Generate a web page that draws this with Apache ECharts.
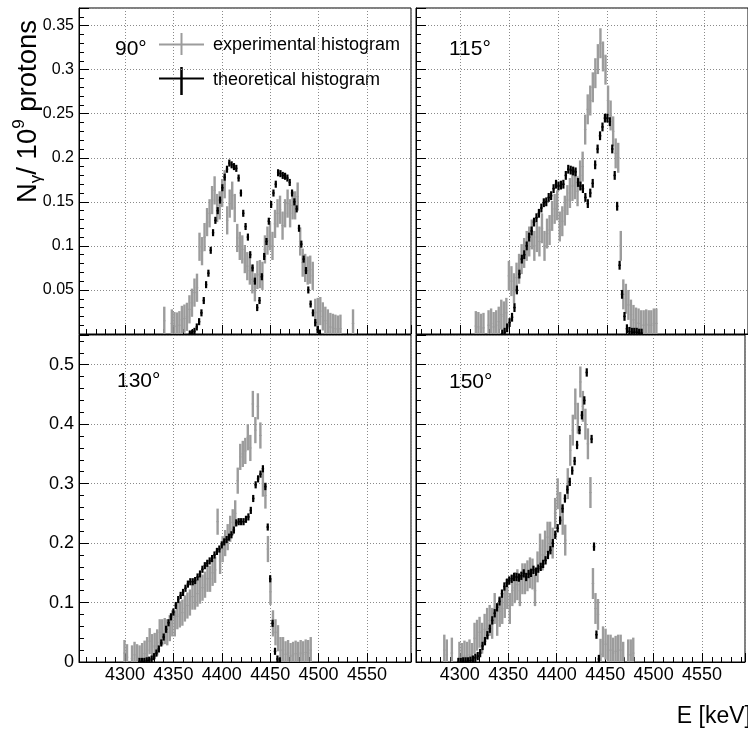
<!DOCTYPE html>
<html>
<head>
<meta charset="utf-8">
<script src="https://cdn.jsdelivr.net/npm/echarts@6.0.0/dist/echarts.min.js"></script>
<style>
html, body { margin: 0; padding: 0; background: #fff; }
#graph { width: 748px; height: 734px; }
</style>
</head>
<body>
<div id="graph"></div>
<script>
"use strict"

const FONT = "'Liberation Sans', Arial, Helvetica, sans-serif";

// histogram bins: [centre of first bin (keV), bin width (keV)]
const exp90Bins = [4340.6, 2.6];
const exp90 = [0.015, null, null, 0.012, 0.009, 0.0085, 0.01, 0.016, 0.0175, 0.0195,
    0.028, 0.0355, 0.047, 0.0525, 0.099, 0.094, 0.11, 0.127, 0.137, 0.152,
    0.163, 0.143, 0.146, 0.16, 0.17, 0.129, 0.148, 0.157, 0.143, 0.109,
    0.1, 0.096, 0.085, 0.077, 0.072, 0.062, 0.053, 0.067, 0.068, 0.066,
    0.096, 0.106, 0.111, 0.1, 0.125, 0.137, 0.141, 0.123, 0.137, 0.148,
    0.137, 0.146, 0.146, 0.156, 0.105, 0.081, 0.075, 0.072, 0.073, 0.066,
    0.024, 0.025, 0.026, 0.02, 0.015, 0.012, 0.008, 0.007, 0.006, 0.005,
    0.006, null, null, null, null, 0.012];
const theo90Bins = [4367, 2.4];
const theo90 = [0, 0.001, 0.003, 0.008, 0.014, 0.024, 0.038, 0.056, 0.069, 0.095,
    0.115, 0.129, 0.14, 0.152, 0.166, 0.178, 0.187, 0.194, 0.192, 0.19,
    0.188, 0.177, 0.16, 0.137, 0.122, 0.11, 0.09, 0.075, 0.06, 0.03,
    0.038, 0.065, 0.088, 0.105, 0.128, 0.147, 0.16, 0.17, 0.183, 0.182,
    0.18, 0.179, 0.177, 0.172, 0.16, 0.15, 0.142, 0.12, 0.102, 0.085,
    0.072, 0.05, 0.034, 0.024, 0.013, 0.005, 0.001];

const exp115Bins = [4316, 2.6];
const exp115 = [0.009, 0.008, 0.006, 0.007, null, 0.01, 0.012, 0.008, 0.01, 0.014,
    0.022, 0.02, 0.024, 0.066, 0.06, 0.052, 0.064, 0.074, 0.085, 0.092,
    0.1, 0.105, 0.113, 0.1, 0.11, 0.105, 0.12, 0.1, 0.114, 0.118,
    0.134, 0.142, 0.146, 0.122, 0.128, 0.14, 0.152, 0.16, 0.168, 0.17,
    0.162, 0.18, 0.19, 0.232, 0.255, 0.265, 0.28, 0.296, 0.312, 0.33,
    0.315, 0.3, 0.265, 0.248, 0.23, 0.205, 0.2, 0.1, 0.045, 0.04,
    0.033, 0.022, 0.016, 0.013, 0.012, 0.01, 0.01, 0.011, 0.01, 0.01,
    0.012, 0.012];
const theo115Bins = [4343, 2.5];
const theo115 = [0, 0.002, 0.007, 0.013, 0.019, 0.03, 0.05, 0.068, 0.085, 0.09,
    0.1, 0.11, 0.117, 0.127, 0.132, 0.137, 0.143, 0.149, 0.15, 0.155,
    0.157, 0.165, 0.17, 0.168, 0.169, 0.17, 0.18, 0.187, 0.186, 0.185,
    0.184, 0.172, 0.168, 0.165, 0.155, 0.148, 0.16, 0.171, 0.192, 0.21,
    0.225, 0.235, 0.245, 0.245, 0.241, 0.21, 0.18, 0.145, 0.078, 0.045,
    0.02, 0.006, 0.003, 0.002, 0.002, 0.002, 0.001, 0.001];

const exp130Bins = [4299.5, 2.6];
const exp130 = [0.015, 0.008, null, 0.006, 0.012, 0.008, 0.006, 0.01, 0.014, 0.02,
    0.035, 0.025, 0.027, 0.033, 0.05, 0.05, 0.052, 0.05, 0.057, 0.065,
    0.065, 0.077, 0.08, 0.083, 0.09, 0.095, 0.1, 0.11, 0.11, 0.115,
    0.12, 0.125, 0.13, 0.14, 0.14, 0.15, 0.155, 0.236, 0.17, 0.19,
    0.2, 0.21, 0.224, 0.235, 0.25, 0.305, 0.345, 0.35, 0.355, 0.378,
    0.36, 0.434, 0.39, 0.43, 0.381, 0.3, 0.28, 0.19, 0.118, 0.065,
    0.05, 0.04, 0.02, 0.02, 0.013, 0.015, 0.01, 0.012, 0.014, 0.012,
    0.015, 0.013, 0.016, 0.015, 0.02];
const theo130Bins = [4315, 2.5];
const theo130 = [0.001, 0.001, 0.001, 0.002, 0.003, 0.005, 0.009, 0.015, 0.022, 0.032,
    0.042, 0.055, 0.066, 0.076, 0.084, 0.095, 0.105, 0.112, 0.117, 0.124,
    0.131, 0.135, 0.135, 0.137, 0.143, 0.148, 0.156, 0.162, 0.166, 0.17,
    0.174, 0.18, 0.186, 0.19, 0.197, 0.202, 0.206, 0.21, 0.214, 0.222,
    0.234, 0.236, 0.236, 0.236, 0.24, 0.244, 0.255, 0.275, 0.298, 0.308,
    0.316, 0.325, 0.295, 0.227, 0.14, 0.065, 0.018, 0.005, 0.002];

const exp150Bins = [4284, 2.6];
const exp150 = [0.02, 0.012, null, 0.015, null, null, 0.008, 0.006, 0.01, 0.008,
    0.012, 0.006, 0.04, 0.045, 0.05, 0.04, 0.055, 0.065, 0.07, 0.065,
    0.09, 0.07, 0.085, 0.09, 0.1, 0.115, 0.09, 0.12, 0.125, 0.13,
    0.12, 0.14, 0.14, 0.145, 0.15, 0.148, 0.12, 0.16, 0.19, 0.18,
    0.195, 0.21, 0.21, 0.2, 0.25, 0.283, 0.26, 0.24, 0.205, 0.3,
    0.356, 0.39, 0.434, 0.41, 0.471, 0.43, 0.4, 0.367, 0.285, 0.132,
    0.09, 0.08, 0.013, 0.034, 0.03, 0.02, 0.02, 0.015, 0.018, 0.02,
    0.02, 0.008, null, 0.012, 0.012, 0.015];
const theo150Bins = [4298.5, 2.5];
const theo150 = [0, 0, 0.001, 0.001, 0.001, 0.002, 0.004, 0.007, 0.01, 0.015,
    0.027, 0.035, 0.045, 0.056, 0.07, 0.082, 0.092, 0.102, 0.115, 0.127,
    0.133, 0.137, 0.14, 0.143, 0.143, 0.142, 0.145, 0.149, 0.143, 0.148,
    0.15, 0.155, 0.152, 0.157, 0.16, 0.165, 0.171, 0.18, 0.188, 0.2,
    0.214, 0.225, 0.238, 0.258, 0.275, 0.29, 0.303, 0.322, 0.338, 0.365,
    0.39, 0.415, 0.44, 0.487, null, 0.375, 0.194, 0.046, 0.005];

// typical half error bars per panel
const expErr = [0.016, 0.017, 0.022, 0.026];
const theoErr = [0.004, 0.005, 0.006, 0.007];

const angleNames = ["90°", "115°", "130°", "150°"];
const xMajor = 50, xMinor = 10;
const yMax = [0.37, 0.37, 0.55, 0.55];
const yMajor = [0.05, 0.05, 0.1, 0.1];
const yMinor = [0.01, 0.01, 0.02, 0.02];

// layout of the four pads
const pads = [
    { left: 79, top: 8, width: 332, height: 326, xr: [4252.5, 4595.5], lx: 115, ly: 49 },
    { left: 416, top: 8, width: 332, height: 326, xr: [4254.8, 4594.3], lx: 449, ly: 49 },
    { left: 79, top: 335, width: 332, height: 327, xr: [4252.5, 4595.5], lx: 117, ly: 381 },
    { left: 416, top: 335, width: 332, height: 327, xr: [4254.8, 4594.3], lx: 449, ly: 382 }
];

const expSets = [[exp90Bins, exp90], [exp115Bins, exp115], [exp130Bins, exp130], [exp150Bins, exp150]];
const theoSets = [[theo90Bins, theo90], [theo115Bins, theo115], [theo130Bins, theo130], [theo150Bins, theo150]];

const GRAY = "#9c9c9c";
const dotted = { show: true, lineStyle: { color: "#8a8a8a", width: 1, type: [1, 2] } };

function toPoints(bins, vals)
{
    const pts = [];
    vals.forEach((v, i) => { if (v != null) pts.push([+(bins[0] + i * bins[1]).toFixed(2), v]); });
    return pts;
}

function errBar(err, halfW, color, vWidth, hWidth)
{
    return (params, api) =>
    {
        const x = api.value(0), y = api.value(1);
        const top = api.coord([x, y + err]), bot = api.coord([x, y - err]);
        const l = api.coord([x - halfW, y]), r = api.coord([x + halfW, y]);
        return {
            type: "group",
            children: [
                { type: "line", shape: { x1: top[0], y1: top[1], x2: bot[0], y2: bot[1] }, style: { stroke: color, lineWidth: vWidth } },
                { type: "line", shape: { x1: l[0], y1: l[1], x2: r[0], y2: r[1] }, style: { stroke: color, lineWidth: hWidth } }
            ]
        };
    };
}

const grid = [], xAxis = [], yAxis = [], series = [];
pads.forEach((p, i) =>
{
    const bottomRow = i >= 2, leftCol = i % 2 === 0;
    grid.push({ left: p.left, top: p.top, width: p.width, height: p.height, show: true, borderColor: "#000", borderWidth: 1 });
    xAxis.push({
        type: "value", gridIndex: i, position: "bottom", min: p.xr[0], max: p.xr[1],
        minInterval: xMajor, maxInterval: xMajor,
        axisLine: { show: true, onZero: false, lineStyle: { color: "#000", width: 1 } },
        axisTick: { inside: true, length: 9, lineStyle: { color: "#000" } },
        axisLabel: { show: bottomRow, margin: 4, fontSize: 18, color: "#000", fontFamily: FONT,
            formatter: v => (Math.abs(v % xMajor) < 1e-6 ? String(v) : "") },
        splitLine: dotted
    });
    yAxis.push({
        type: "value", gridIndex: i, position: "left", min: 0, max: yMax[i], interval: yMajor[i],
        axisLine: { show: true, onZero: false, lineStyle: { color: "#000", width: 1 } },
        axisTick: { inside: true, length: 10, lineStyle: { color: "#000" } },
        axisLabel: { show: leftCol, margin: 5, fontSize: bottomRow ? 18 : 16, color: "#000", fontFamily: FONT,
            formatter: v => ((v > yMax[i] - 0.015 || (!bottomRow && v < 0.001)) ? "" : String(+v.toFixed(2))) },
        splitLine: dotted
    });

    const [eb, ev] = expSets[i], [tb, tv] = theoSets[i];
    series.push({
        type: "custom", name: "experimental histogram", xAxisIndex: i, yAxisIndex: i, clip: true, silent: true,
        encode: { x: 0, y: 1 }, data: toPoints(eb, ev),
        renderItem: errBar(expErr[i], eb[1] / 2, GRAY, 2.4, 1)
    });
    series.push({
        type: "custom", name: "theoretical histogram", xAxisIndex: i, yAxisIndex: i, clip: true, silent: true,
        encode: { x: 0, y: 1 }, data: toPoints(tb, tv),
        renderItem: errBar(theoErr[i], tb[1] / 2, "#000", 2.2, 1.5)
    });
});

// minor tick axes
pads.forEach((p, i) =>
{
    xAxis.push({
        type: "value", gridIndex: i, position: "bottom", min: p.xr[0], max: p.xr[1],
        minInterval: xMinor, maxInterval: xMinor,
        axisLine: { show: false }, axisLabel: { show: false }, splitLine: { show: false },
        axisTick: { inside: true, length: 5, lineStyle: { color: "#000" } }
    });
    yAxis.push({
        type: "value", gridIndex: i, position: "left", min: 0, max: yMax[i], interval: yMinor[i],
        axisLine: { show: false }, axisLabel: { show: false }, splitLine: { show: false },
        axisTick: { inside: true, length: 5, lineStyle: { color: "#000" } }
    });
});

const graphic = [];
pads.forEach((p, i) =>
{
    graphic.push({ type: "text", x: p.lx, y: p.ly, style: { text: angleNames[i], fontSize: 21, fontFamily: FONT, fill: "#000", verticalAlign: "middle" } });
});
// legend
graphic.push(
    { type: "line", shape: { x1: 159, y1: 44.5, x2: 204, y2: 44.5 }, style: { stroke: GRAY, lineWidth: 2 } },
    { type: "line", shape: { x1: 181.5, y1: 33, x2: 181.5, y2: 55 }, style: { stroke: GRAY, lineWidth: 2 } },
    { type: "text", x: 213, y: 45, style: { text: "experimental histogram", fontSize: 18, fontFamily: FONT, fill: "#000", verticalAlign: "middle" } },
    { type: "line", shape: { x1: 159, y1: 78.5, x2: 204, y2: 78.5 }, style: { stroke: "#000", lineWidth: 2 } },
    { type: "line", shape: { x1: 181.5, y1: 67, x2: 181.5, y2: 95 }, style: { stroke: "#000", lineWidth: 2.5 } },
    { type: "text", x: 213, y: 80, style: { text: "theoretical histogram", fontSize: 18, fontFamily: FONT, fill: "#000", verticalAlign: "middle" } }
);
// axis titles
graphic.push(
    {
        type: "text", x: 28, y: 20, rotation: Math.PI / 2,
        style: {
            text: "{n|N}{sub|γ}{n|/ 10}{sup|9}{n| protons}",
            align: "right", verticalAlign: "middle",
            rich: {
                n: { fontSize: 27.5, fontFamily: FONT, fill: "#000", lineHeight: 34, verticalAlign: "middle" },
                sub: { fontSize: 17, fontFamily: FONT, fill: "#000", lineHeight: 34, verticalAlign: "bottom" },
                sup: { fontSize: 17, fontFamily: FONT, fill: "#000", lineHeight: 34, verticalAlign: "top" }
            }
        }
    },
    { type: "text", x: 751, y: 717, style: { text: "E [keV]", fontSize: 23, fontFamily: FONT, fill: "#000", align: "right", verticalAlign: "middle" } }
);

const myChart = echarts.init(document.getElementById("graph"), null, { renderer: "canvas" });
myChart.setOption({
    backgroundColor: "#fff",
    animation: false,
    grid: grid,
    xAxis: xAxis,
    yAxis: yAxis,
    series: series,
    graphic: graphic
});
</script>
</body>
</html>
